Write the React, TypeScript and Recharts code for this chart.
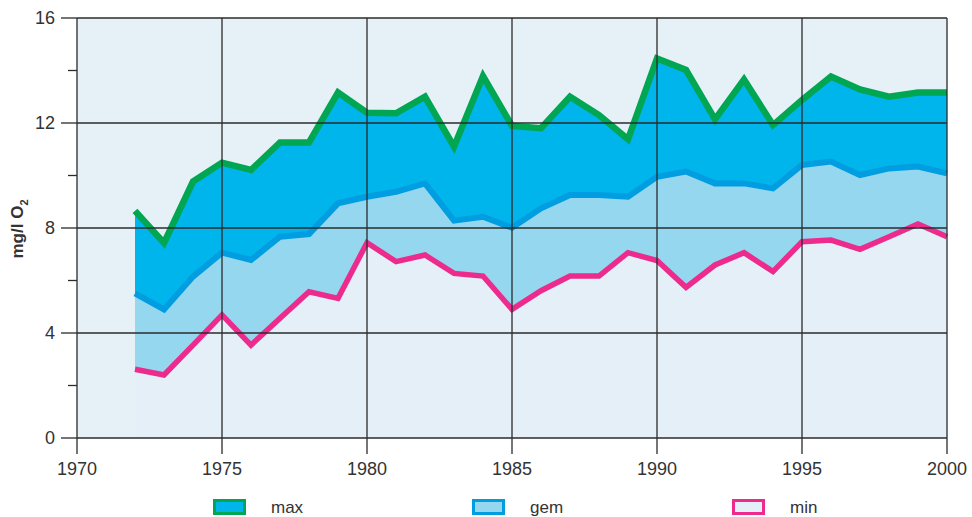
import React from "react";
import {
  ComposedChart,
  Area,
  Line,
  XAxis,
  YAxis,
  CartesianGrid,
  ReferenceLine,
} from "recharts";

const years = [
  1972, 1973, 1974, 1975, 1976, 1977, 1978, 1979, 1980, 1981, 1982, 1983, 1984,
  1985, 1986, 1987, 1988, 1989, 1990, 1991, 1992, 1993, 1994, 1995, 1996, 1997,
  1998, 1999, 2000,
];

const maxVals = [
  8.65, 7.43, 9.77, 10.49, 10.21, 11.26, 11.26, 13.16, 12.39, 12.37, 13.0, 11.1,
  13.79, 11.89, 11.8, 13.0, 12.3, 11.38, 14.46, 14.02, 12.14, 13.66, 11.92,
  12.88, 13.77, 13.28, 13.0, 13.16, 13.16,
];

const gemVals = [
  5.51, 4.9, 6.15, 7.06, 6.78, 7.67, 7.77, 8.94, 9.19, 9.38, 9.7, 8.28, 8.43,
  8.01, 8.75, 9.26, 9.26, 9.19, 9.95, 10.15, 9.7, 9.7, 9.51, 10.4, 10.53, 10.02,
  10.27, 10.34, 10.08,
];

const minVals = [
  2.62, 2.4, 3.54, 4.69, 3.54, 4.56, 5.57, 5.32, 7.44, 6.72, 6.97, 6.27, 6.17,
  4.9, 5.61, 6.17, 6.17, 7.06, 6.76, 5.74, 6.59, 7.06, 6.34, 7.48, 7.54, 7.19,
  7.67, 8.15, 7.67,
];

const xTicks = [1970, 1975, 1980, 1985, 1990, 1995, 2000];
const yTicks = [0, 2, 4, 6, 8, 10, 12, 14, 16];
const gridX = [1975, 1980, 1985, 1990, 1995, 2000];
const gridY = [4, 8, 12, 16];

const data = years.map((year, i) => ({
  year,
  max: maxVals[i],
  gem: gemVals[i],
  min: minVals[i],
}));

const FONT = "'Liberation Sans', Arial, Helvetica, sans-serif";
const TEXT = "#333333";
const AXIS = "#2b2b2b";

const GREEN = "#00a651";
const DARK_BLUE = "#00b4ec";
const GEM_LINE = "#009ee0";
const LIGHT_BLUE = "#94d7ef";
const PINK = "#ec2b8c";
const PALE = "#e4eff7";
const BG = "#e6f0f7";

const legendItems = [
  { label: "max", border: GREEN, fill: DARK_BLUE, x: 213 },
  { label: "gem", border: GEM_LINE, fill: LIGHT_BLUE, x: 472 },
  { label: "min", border: PINK, fill: PALE, x: 732 },
];

function YTick(props: any) {
  const { x, y, payload } = props;
  const major = payload.value % 4 === 0;
  return (
    <g>
      <line x1={x - (major ? 16 : 9)} x2={x} y1={y} y2={y} stroke={AXIS} strokeWidth={1.3} />
      {major && (
        <text
          x={x - 22}
          y={y}
          dy="0.36em"
          textAnchor="end"
          fontSize={18}
          fontFamily={FONT}
          fill={TEXT}
        >
          {payload.value}
        </text>
      )}
    </g>
  );
}

function XTick(props: any) {
  const { x, y, payload } = props;
  return (
    <g>
      <line x1={x} x2={x} y1={y} y2={y + 16} stroke={AXIS} strokeWidth={1.3} />
      <text x={x} y={y + 37} textAnchor="middle" fontSize={18} fontFamily={FONT} fill={TEXT}>
        {payload.value}
      </text>
    </g>
  );
}

export default function App() {
  return (
    <div style={{ position: "absolute", left: 0, top: 0, width: 972, height: 517, background: "#fff" }}>
      <ComposedChart
        width={972}
        height={517}
        data={data}
        margin={{ top: 18, right: 25, bottom: 49, left: 0 }}
      >
        <CartesianGrid horizontal={false} vertical={false} fill={BG} stroke="none" />
        <XAxis
          dataKey="year"
          type="number"
          domain={[1970, 2000]}
          ticks={xTicks}
          height={30}
          tickLine={false}
          tickSize={0}
          tickMargin={0}
          axisLine={{ stroke: AXIS, strokeWidth: 1.3 }}
          tick={<XTick />}
          interval={0}
        />
        <YAxis
          type="number"
          domain={[0, 16]}
          ticks={yTicks}
          width={77}
          tickLine={false}
          tickSize={0}
          tickMargin={0}
          axisLine={{ stroke: AXIS, strokeWidth: 1.3 }}
          tick={<YTick />}
          interval={0}
        />
        <Area
          dataKey="max"
          type="linear"
          fill={DARK_BLUE}
          fillOpacity={1}
          stroke="none"
          isAnimationActive={false}
        />
        <Area
          dataKey="gem"
          type="linear"
          fill={LIGHT_BLUE}
          fillOpacity={1}
          stroke="none"
          isAnimationActive={false}
        />
        <Area
          dataKey="min"
          type="linear"
          fill={PALE}
          fillOpacity={1}
          stroke="none"
          isAnimationActive={false}
        />
        <Line
          dataKey="gem"
          type="linear"
          stroke={GEM_LINE}
          strokeWidth={6}
          dot={false}
          strokeLinejoin="miter"
          isAnimationActive={false}
        />
        <Line
          dataKey="min"
          type="linear"
          stroke={PINK}
          strokeWidth={5.5}
          dot={false}
          strokeLinejoin="miter"
          isAnimationActive={false}
        />
        <Line
          dataKey="max"
          type="linear"
          stroke={GREEN}
          strokeWidth={6.5}
          dot={false}
          strokeLinejoin="miter"
          isAnimationActive={false}
        />
        {gridX.map((v) => (
          <ReferenceLine key={`gx-${v}`} x={v} stroke={AXIS} strokeWidth={1.3} ifOverflow="visible" />
        ))}
        {gridY.map((v) => (
          <ReferenceLine key={`gy-${v}`} y={v} stroke={AXIS} strokeWidth={1.3} ifOverflow="visible" />
        ))}
      </ComposedChart>

      <svg
        width={972}
        height={517}
        style={{ position: "absolute", left: 0, top: 0, pointerEvents: "none" }}
      >
        <text
          transform="translate(23, 229) rotate(-90)"
          textAnchor="middle"
          fontSize={17}
          fontWeight="bold"
          fontFamily={FONT}
          fill={TEXT}
        >
          mg/l O
          <tspan fontSize={11} dy={5}>
            2
          </tspan>
        </text>
        {legendItems.map((item) => (
          <g key={item.label}>
            <rect
              x={item.x + 1.5}
              y={500.5}
              width={30}
              height={13}
              fill={item.fill}
              stroke={item.border}
              strokeWidth={3}
            />
            <text x={item.x + 58} y={513} fontSize={17} fontFamily={FONT} fill={TEXT}>
              {item.label}
            </text>
          </g>
        ))}
      </svg>
    </div>
  );
}
